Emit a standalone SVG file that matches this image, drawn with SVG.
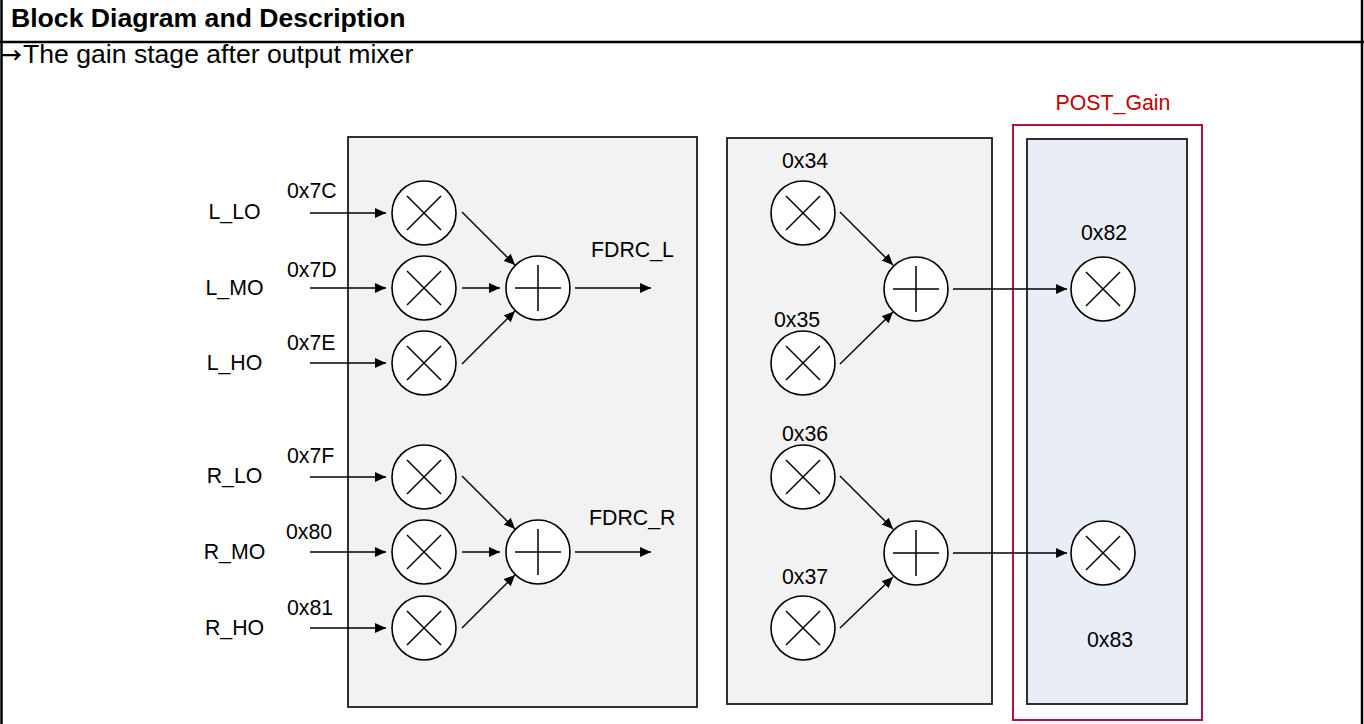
<svg xmlns="http://www.w3.org/2000/svg" width="1364" height="724" viewBox="0 0 1364 724">
<defs>
<style>
.frame{stroke:#000;stroke-width:2.5;fill:none}
.blk{fill:#F2F2F2;stroke:#1a1a1a;stroke-width:1.8}
.blue{fill:#E9EDF5;stroke:#1a1a1a;stroke-width:1.8}
.red{fill:#fff;stroke:#B5123E;stroke-width:2}
.op{fill:#fff;stroke:#000;stroke-width:1.6}
.sym{stroke:#000;stroke-width:1.5;fill:none}
.cn{stroke:#000;stroke-width:1.4;fill:none;marker-end:url(#ah)}
.t{font-family:"Liberation Sans",Arial,sans-serif;font-size:21.3px;fill:#000}
.title{font-family:"Liberation Sans",Arial,sans-serif;font-size:26.6px;font-weight:bold;fill:#000}
.sub{font-family:"Liberation Sans",Arial,sans-serif;font-size:26.6px;fill:#000}
.arr{font-family:"Noto Sans CJK SC","DejaVu Sans",sans-serif;font-size:21px;font-weight:bold;fill:#000}
.redt{fill:#C00000}
</style>
<marker id="ah" markerUnits="userSpaceOnUse" markerWidth="11" markerHeight="10" refX="11" refY="5" orient="auto">
<path d="M0,0 L11,5 L0,10 z" fill="#000"/>
</marker>
<g id="mul"><circle r="32" class="op"/><path class="sym" d="M-17,-17 L17,17 M17,-17 L-17,17"/></g>
<g id="add"><circle r="32" class="op"/><path class="sym" d="M0,-23 L0,23 M-23,0 L23,0"/></g>
</defs>

<g id="frame">
<line class="frame" x1="1.5" y1="0" x2="1.5" y2="724"/>
<line class="frame" x1="1362" y1="0" x2="1362" y2="724"/>
<line class="frame" x1="0" y1="42" x2="1364" y2="42"/>
<text class="title" x="11" y="27">Block Diagram and Description</text>
<text class="arr" x="1" y="63">→</text>
<text class="sub" x="23" y="63">The gain stage after output mixer</text>
</g>

<g id="block-mixer"><rect class="blk" x="348" y="137" width="349" height="570"/></g>
<g id="block-fdrc"><rect class="blk" x="727" y="138" width="265" height="566"/></g>
<g id="post-gain">
<rect class="red" x="1013" y="125" width="189" height="595"/>
<rect class="blue" x="1027" y="139" width="160" height="565"/>
<text class="t redt" x="1113" y="110" text-anchor="middle">POST_Gain</text>
</g>

<g id="connectors">
<line class="cn" x1="310" y1="213" x2="386" y2="213"/>
<line class="cn" x1="310" y1="288" x2="386" y2="288"/>
<line class="cn" x1="310" y1="363" x2="386" y2="363"/>
<line class="cn" x1="310" y1="477" x2="386" y2="477"/>
<line class="cn" x1="310" y1="552" x2="386" y2="552"/>
<line class="cn" x1="310" y1="628" x2="386" y2="628"/>
<line class="cn" x1="462" y1="212" x2="515" y2="265"/>
<line class="cn" x1="462" y1="288" x2="500" y2="288"/>
<line class="cn" x1="462" y1="364" x2="515" y2="311"/>
<line class="cn" x1="462" y1="476" x2="515" y2="529"/>
<line class="cn" x1="462" y1="552" x2="500" y2="552"/>
<line class="cn" x1="462" y1="628" x2="515" y2="575"/>
<line class="cn" x1="575" y1="288" x2="651" y2="288"/>
<line class="cn" x1="575" y1="552" x2="651" y2="552"/>
<line class="cn" x1="840" y1="212" x2="893" y2="265"/>
<line class="cn" x1="840" y1="364" x2="893" y2="312"/>
<line class="cn" x1="840" y1="476" x2="893" y2="529"/>
<line class="cn" x1="840" y1="628" x2="893" y2="577"/>
<line class="cn" x1="953" y1="289" x2="1067" y2="289"/>
<line class="cn" x1="953" y1="553" x2="1067" y2="553"/>
</g>

<g id="in-L_LO"><text class="t" x="234.5" y="219" text-anchor="middle">L_LO</text><text class="t" x="287" y="198">0x7C</text></g>
<g id="in-L_MO"><text class="t" x="234.5" y="295" text-anchor="middle">L_MO</text><text class="t" x="287" y="277">0x7D</text></g>
<g id="in-L_HO"><text class="t" x="234.5" y="370" text-anchor="middle">L_HO</text><text class="t" x="287" y="350">0x7E</text></g>
<g id="in-R_LO"><text class="t" x="234.5" y="483" text-anchor="middle">R_LO</text><text class="t" x="287" y="463">0x7F</text></g>
<g id="in-R_MO"><text class="t" x="234.5" y="559" text-anchor="middle">R_MO</text><text class="t" x="286" y="539">0x80</text></g>
<g id="in-R_HO"><text class="t" x="234.5" y="635" text-anchor="middle">R_HO</text><text class="t" x="287" y="615">0x81</text></g>

<g id="mul-7C"><use href="#mul" x="424" y="213"/></g>
<g id="mul-7D"><use href="#mul" x="424" y="288"/></g>
<g id="mul-7E"><use href="#mul" x="424" y="363"/></g>
<g id="add-L"><use href="#add" x="538" y="288"/><text class="t" x="591" y="257">FDRC_L</text></g>
<g id="mul-7F"><use href="#mul" x="424" y="477"/></g>
<g id="mul-80"><use href="#mul" x="424" y="552"/></g>
<g id="mul-81"><use href="#mul" x="424" y="628"/></g>
<g id="add-R"><use href="#add" x="538" y="552"/><text class="t" x="589" y="525">FDRC_R</text></g>

<g id="mul-34"><use href="#mul" x="803" y="213"/><text class="t" x="782" y="168">0x34</text></g>
<g id="mul-35"><use href="#mul" x="803" y="363"/><text class="t" x="774" y="327">0x35</text></g>
<g id="add-1"><use href="#add" x="916" y="289"/></g>
<g id="mul-36"><use href="#mul" x="803" y="477"/><text class="t" x="782" y="441">0x36</text></g>
<g id="mul-37"><use href="#mul" x="803" y="628"/><text class="t" x="782" y="584">0x37</text></g>
<g id="add-2"><use href="#add" x="916" y="553"/></g>

<g id="mul-82"><use href="#mul" x="1103" y="289"/><text class="t" x="1081" y="240">0x82</text></g>
<g id="mul-83"><use href="#mul" x="1103" y="553"/><text class="t" x="1087" y="647">0x83</text></g>
</svg>
